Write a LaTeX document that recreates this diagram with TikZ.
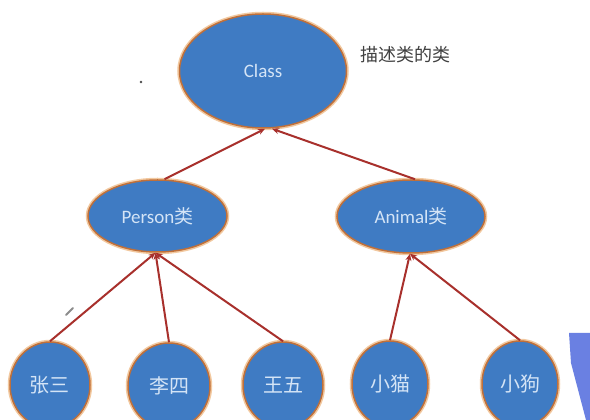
\documentclass[tikz,border=0pt]{standalone}
\usepackage{fontspec}
\setmainfont{Carlito}
\newfontfamily\cjk{Noto Sans CJK SC}
\usetikzlibrary{shapes.geometric,arrows.meta}
\definecolor{ellfill}{HTML}{3F7BC3}
\definecolor{ellline}{HTML}{C0703A}
\definecolor{ellglow}{HTML}{F2C9A0}
\definecolor{elltext}{HTML}{D4E4F6}
\definecolor{arrred}{HTML}{A8302C}
\definecolor{tri}{HTML}{6A80E2}
\tikzset{
  ell/.style={ellipse, fill=ellfill, draw=ellline, line width=1.5pt, inner sep=0pt,
    preaction={draw=ellglow, line width=4.5pt},
    text=elltext, font=\fontsize{19}{21}\selectfont},
  leaf/.style={ell, font=\fontsize{20}{22}\cjk},
  arr/.style={draw=arrred, line width=2pt, -{Stealth[length=7pt,width=6pt]}},
}
\begin{document}
\begin{tikzpicture}[x=1pt,y=1pt]
\useasboundingbox (0,0) rectangle (590,420);
\clip (0,0) rectangle (590,420);
\fill[white] (0,0) rectangle (590,420);

% nodes
\node[ell, minimum width=167pt, minimum height=114pt] (cls) at (263,349) {Class};
\node[ell, minimum width=139pt, minimum height=72pt] (person) at (157.5,204) {Person{\cjk 类}};
\node[ell, minimum width=148pt, minimum height=73pt] (animal) at (411,203.5) {Animal{\cjk 类}};
\node[leaf, minimum width=80pt, minimum height=86pt] (zs) at (50,35) {张三};
\node[leaf, minimum width=82pt, minimum height=86pt] (ls) at (169,34) {李四};
\node[leaf, minimum width=80pt, minimum height=86pt] (ww) at (283,35) {王五};
\node[leaf, minimum width=76pt, minimum height=86pt] (xm) at (390,36) {小猫};
\node[leaf, minimum width=76pt, minimum height=86pt] (xg) at (520,36) {小狗};

\node[text=black!75, font=\fontsize{18}{20}\cjk] (desc) at (405,365) {描述类的类};

% connectors
\draw[arr] ([xshift=7pt]person.north) -- ([xshift=2pt]cls.south);
\draw[arr] ([xshift=4pt]animal.north) -- ([xshift=9pt]cls.south);
\draw[arr] (zs.north) -- ([xshift=-2pt]person.south);
\draw[arr] (ls.north) -- ([xshift=-2pt]person.south);
\draw[arr] (ww.north) -- ([xshift=-2pt]person.south);
\draw[arr] (xm.north) -- ([xshift=-1pt]animal.south);
\draw[arr] (xg.north) -- ([xshift=-1pt]animal.south);

% stray marks
\fill[black!70] (141,338) circle (1.3pt);
\draw[black!45, line width=2pt, line cap=round] (66,105) -- (73,112);
\fill[tri] (569,87) -- (590,87) -- (590,0) -- (586,0) -- (571,57) -- cycle;
\end{tikzpicture}
\end{document}
